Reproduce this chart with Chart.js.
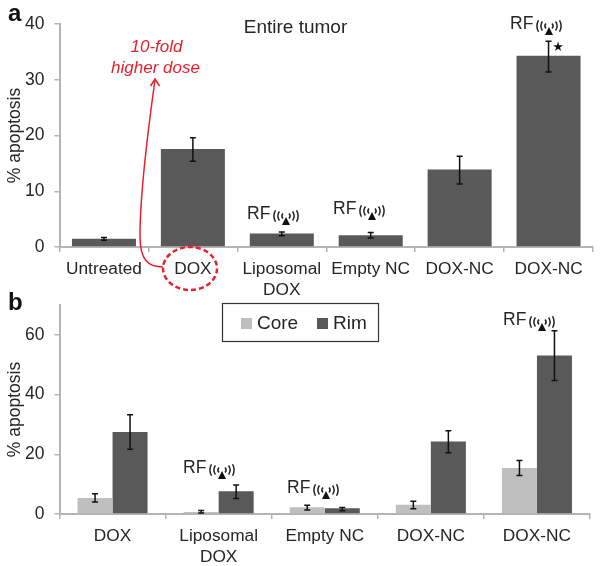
<!DOCTYPE html>
<html><head><meta charset="utf-8">
<script src="https://cdn.jsdelivr.net/npm/chart.js@4"></script>
<style>html,body{margin:0;padding:0;background:#fff;width:600px;height:566px;overflow:hidden}
canvas{position:absolute;left:0;top:0}</style></head>
<body><canvas id="a" width="600" height="566"></canvas><canvas id="b" width="600" height="566"></canvas>
<script>
const categoriesA = ["Untreated","DOX",["Liposomal","DOX"],"Empty NC","DOX-NC","DOX-NC"];
const entireTumor = [1.5,17.6,2.4,2.1,13.9,34.3];
const entireLow  = [1.2,15.4,2.0,1.6,11.3,31.4];
const entireHigh = [1.7,19.6,2.7,2.6,16.3,36.9];
const categoriesB = ["DOX",["Liposomal","DOX"],"Empty NC","DOX-NC","DOX-NC"];
const core = [5.4,0.7,2.3,3.1,15.4];
const coreLow  = [4.0,0.3,1.3,1.8,12.9];
const coreHigh = [6.8,1.2,2.9,4.3,17.9];
const rim = [27.5,7.6,1.9,24.3,53.1];
const rimLow  = [21.7,5.2,1.1,20.5,44.7];
const rimHigh = [33.2,9.7,2.2,27.9,61.4];
const ticksA = [0,10,20,30,40];
const ticksB = [0,20,40,60];

const FONT='"Liberation Sans", Arial, sans-serif', INK='#262626', RED='#e8202e', AXIS='#b4b4b4';
Chart.defaults.font.family=FONT; Chart.defaults.color=INK;

const errorBars={id:'errorBars',afterDatasetsDraw(c){
  const ctx=c.ctx,y=c.scales.y;ctx.save();ctx.strokeStyle='#111';ctx.lineWidth=1.5;
  c.data.datasets.forEach((d,i)=>{c.getDatasetMeta(i).data.forEach((bar,j)=>{
    const x=bar.x,t=y.getPixelForValue(d.errHigh[j]),b=y.getPixelForValue(d.errLow[j]);
    ctx.beginPath();ctx.moveTo(x,t);ctx.lineTo(x,b);
    ctx.moveTo(x-3,t);ctx.lineTo(x+3,t);ctx.moveTo(x-3,b);ctx.lineTo(x+3,b);ctx.stroke();});});
  ctx.restore();}};

function rf(ctx,x,y){ // "RF" text followed by the antenna glyph
  ctx.save();ctx.fillStyle=INK;ctx.font='17.5px '+FONT;ctx.textAlign='left';ctx.textBaseline='middle';
  ctx.fillText('RF',x,y);
  const cx=x+39,cy=y+2;ctx.strokeStyle='#222';ctx.lineWidth=1.5;
  [[4,0.7],[8,0.6],[12,0.5]].forEach(([r,a])=>{
    ctx.beginPath();ctx.arc(cx,cy,r,-a,a);ctx.stroke();
    ctx.beginPath();ctx.arc(cx,cy,r,Math.PI-a,Math.PI+a);ctx.stroke();});
  ctx.fillStyle='#111';ctx.beginPath();ctx.moveTo(cx,cy+1);ctx.lineTo(cx+4,cy+9);ctx.lineTo(cx-4,cy+9);ctx.closePath();ctx.fill();
  ctx.restore();}

function panelLetter(ctx,t,x,y){ctx.save();ctx.fillStyle='#111';ctx.font='bold 24px '+FONT;ctx.textBaseline='alphabetic';ctx.fillText(t,x,y);ctx.restore();}

const overlayA={id:'overlayA',afterDraw(c){
  const ctx=c.ctx;panelLetter(ctx,'a',8,21);
  ctx.save();ctx.fillStyle=INK;ctx.font='19px '+FONT;ctx.textAlign='center';ctx.textBaseline='middle';
  ctx.fillText('Entire tumor',295.5,28);
  ctx.font='bold 13px "DejaVu Sans"';ctx.fillStyle='#111';ctx.fillText('★',558,48);
  ctx.fillStyle=RED;ctx.font='italic 17px '+FONT;
  ctx.fillText('10-fold',156.5,47);ctx.fillText('higher dose',155.5,68);
  ctx.strokeStyle=RED;ctx.lineWidth=1.5;
  ctx.beginPath();ctx.moveTo(163,267);ctx.bezierCurveTo(148,267,140,260,140,236);
  ctx.bezierCurveTo(140,190,148,130,155,80);ctx.stroke();
  ctx.beginPath();ctx.moveTo(150.5,86);ctx.lineTo(155,79);ctx.lineTo(159.5,86);ctx.stroke();
  ctx.lineWidth=2.5;ctx.setLineDash([5,3]);ctx.beginPath();ctx.ellipse(190,268.5,27,21.5,0,0,Math.PI*2);ctx.stroke();
  ctx.restore();
  rf(ctx,247,214);rf(ctx,333,209);rf(ctx,510,24);}};

const overlayB={id:'overlayB',afterDraw(c){
  const ctx=c.ctx;panelLetter(ctx,'b',8,310);
  rf(ctx,183,468);rf(ctx,287,488);rf(ctx,503,320);
  ctx.save();ctx.fillStyle='#fff';ctx.strokeStyle='#333';ctx.lineWidth=1.2;
  ctx.fillRect(222.5,303.5,156,38);ctx.strokeRect(222.5,303.5,156,38);
  ctx.textBaseline='middle';ctx.font='19px '+FONT;
  const [d0,d1]=c.data.datasets;
  ctx.fillStyle=d0.backgroundColor;ctx.fillRect(241,318,11,11);
  ctx.fillStyle=INK;ctx.fillText(d0.label,257,323.5);
  ctx.fillStyle=d1.backgroundColor;ctx.fillRect(317,318,11,11);
  ctx.fillStyle=INK;ctx.fillText(d1.label,333,323.5);
  ctx.restore();}};

function axes(tickVals,max,step,xH){return {
  x:{grid:{drawOnChartArea:false,color:AXIS,tickLength:5,lineWidth:1.5},border:{color:AXIS,width:2},
     ticks:{font:{size:17.3},color:INK,padding:7,maxRotation:0,autoSkip:false},
     afterFit(s){s.height=xH;}},
  y:{min:0,max:max,grid:{drawOnChartArea:false,color:AXIS,tickLength:5,lineWidth:1.5},border:{color:AXIS,width:2},
     ticks:{font:{size:17.5},color:INK,padding:10,stepSize:step},
     title:{display:true,text:'% apoptosis',font:{size:17.5},color:INK,padding:{top:5,bottom:0}},
     afterBuildTicks(s){s.ticks=tickVals.map(v=>({value:v}));},
     afterFit(s){s.width=59.5;}}};}

new Chart(document.getElementById('a'),{type:'bar',
 data:{labels:categoriesA,datasets:[{label:'Entire tumor',data:entireTumor,errLow:entireLow,errHigh:entireHigh,backgroundColor:'#595959',categoryPercentage:1,barPercentage:0.72}]},
 options:{responsive:false,animation:false,devicePixelRatio:1,layout:{padding:{left:0,top:24,right:7,bottom:0}},
  plugins:{legend:{display:false},title:{display:false},tooltip:{enabled:false}},scales:axes(ticksA,40,10,319)},
 plugins:[errorBars,overlayA]});

new Chart(document.getElementById('b'),{type:'bar',
 data:{labels:categoriesB,datasets:[
  {label:'Core',data:core,errLow:coreLow,errHigh:coreHigh,backgroundColor:'#bfbfbf',categoryPercentage:0.66,barPercentage:1},
  {label:'Rim',data:rim,errLow:rimLow,errHigh:rimHigh,backgroundColor:'#595959',categoryPercentage:0.66,barPercentage:1}]},
 options:{responsive:false,animation:false,devicePixelRatio:1,layout:{padding:{left:0,top:305,right:10,bottom:0}},
  plugins:{legend:{display:false},title:{display:false},tooltip:{enabled:false}},scales:axes(ticksB,70,20,52)},
 plugins:[errorBars,overlayB]});
</script></body></html>
